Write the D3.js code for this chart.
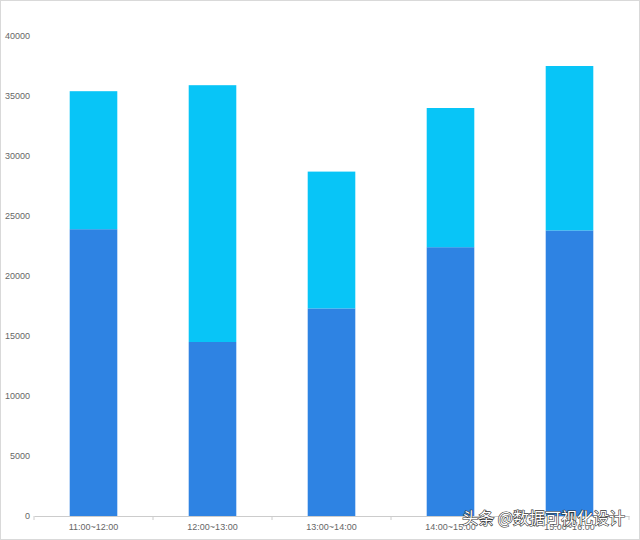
<!DOCTYPE html>
<html><head><meta charset="utf-8">
<script src="https://cdn.jsdelivr.net/npm/d3@7"></script>
<style>body{margin:0;background:#fff}svg{display:block}</style>
</head><body>
<svg id="c" width="640" height="540"></svg>
<script>
const categories = ["11:00~12:00","12:00~13:00","13:00~14:00","14:00~15:00","15:00~16:00"];
const seriesBottom = [23900,14500,17300,22400,23800];
const seriesTop = [11500,21400,11400,11600,13700];
const yTicks = [0,5000,10000,15000,20000,25000,30000,35000,40000];

const svg = d3.select("#c");
svg.append("rect").attr("x",0.5).attr("y",0.5).attr("width",639).attr("height",539)
  .attr("fill","#fff").attr("stroke","#d9d9d9");

const x = d3.scaleBand().domain(categories).range([34,629]).paddingInner(0.6).paddingOuter(0.3);
const y = d3.scaleLinear().domain([0,40000]).range([516,36]);

const data = categories.map((c,i)=>({cat:c,bottom:seriesBottom[i],top:seriesTop[i]}));
const stack = d3.stack().keys(["bottom","top"])(data);
const colors = {bottom:"#2e83e3", top:"#08c5f7"};

svg.append("g").selectAll("g").data(stack).join("g")
  .attr("fill",d=>colors[d.key])
  .selectAll("rect").data(d=>d).join("rect")
  .attr("x",d=>x(d.data.cat)).attr("width",x.bandwidth())
  .attr("y",d=>y(d[1])).attr("height",d=>y(d[0])-y(d[1]));

// y axis labels
const ya = svg.append("g").attr("transform","translate(30,0)")
  .call(d3.axisLeft(y).tickValues(yTicks).tickSize(0).tickPadding(0).tickFormat(d3.format("d")));
ya.select(".domain").remove();
ya.selectAll("text").attr("fill","#666").style("font-family","Liberation Sans, Arial, sans-serif").style("font-size","9px");

// x axis
const xa = svg.append("g").attr("transform","translate(0,516)")
  .call(d3.axisBottom(x).tickSize(0).tickPadding(8));
xa.select(".domain").attr("stroke","#ccc");
xa.selectAll("text").attr("fill","#666").style("font-family","Liberation Sans, Arial, sans-serif").style("font-size","9px");
// boundary ticks
const step = x.step();
const bounds = d3.range(categories.length+1).map(i=>34+i*step);
xa.selectAll(".bt").data(bounds).join("line").attr("class","bt")
  .attr("x1",d=>d).attr("x2",d=>d).attr("y1",0).attr("y2",4).attr("stroke","#ccc");

// watermark
svg.append("text").attr("x",625).attr("y",524).attr("text-anchor","end")
  .style("font-family","Noto Sans CJK SC, sans-serif").style("font-size","16px")
  .attr("fill","#fff").attr("stroke","#333").attr("stroke-width",1.2).attr("paint-order","stroke")
  .text("头条 @数据可视化设计");
</script>
</body></html>
